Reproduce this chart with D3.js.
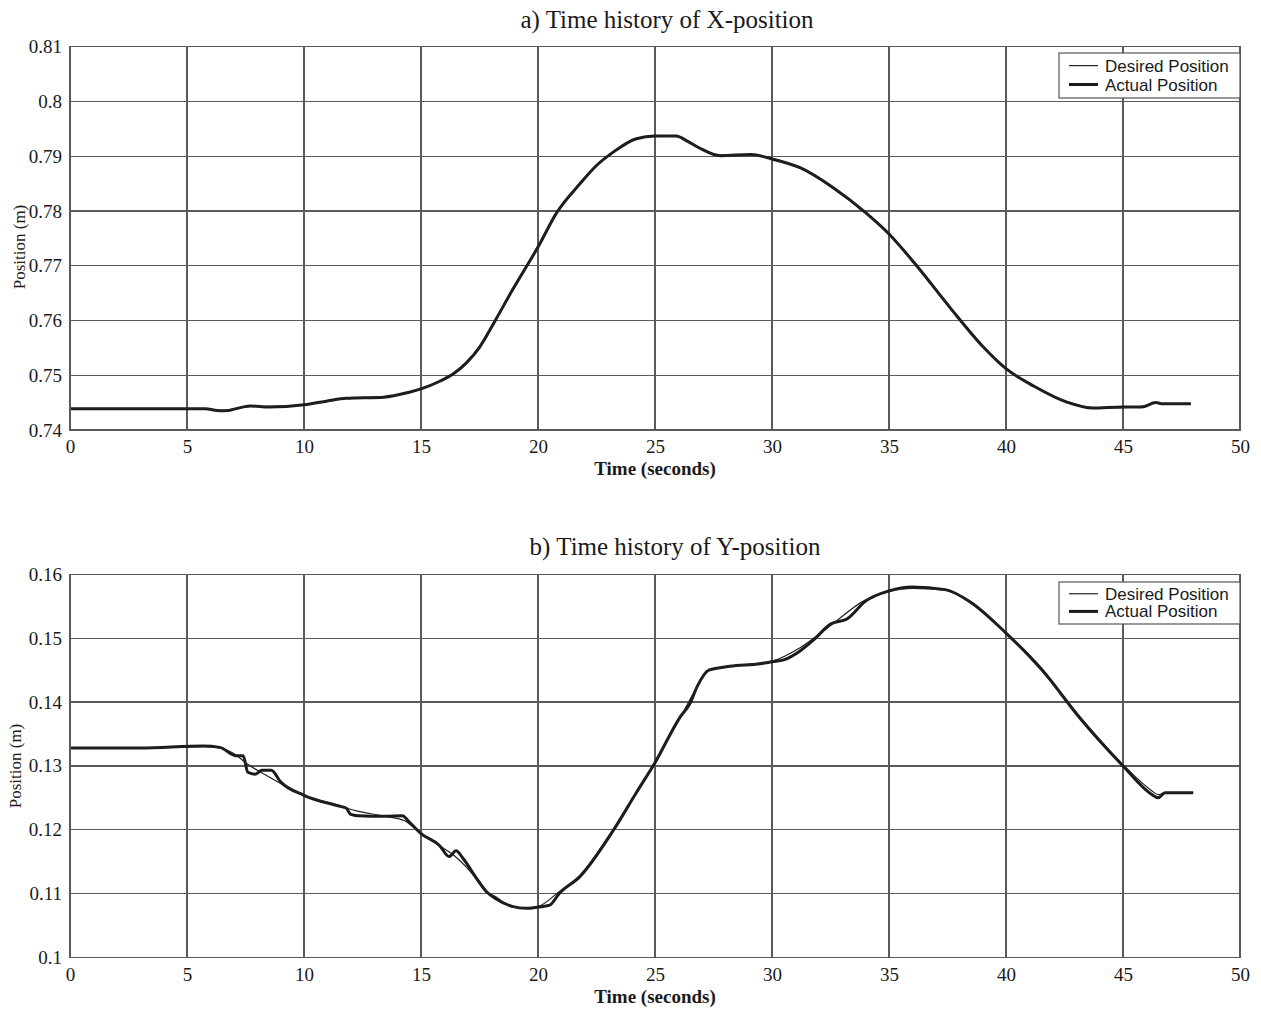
<!DOCTYPE html>
<meta charset="utf-8">
<style>
body { margin: 0; background: #fff; }
.grid line, .frame { stroke: #5a5a5a; stroke-width: 1.3; fill: none; shape-rendering: crispEdges; }
.tick text { font: 19px "Liberation Serif", serif; fill: #1a1a1a; }
.title { font: 25px "Liberation Serif", serif; fill: #1a1a1a; text-anchor: middle; }
.xlabel { font: bold 19px "Liberation Serif", serif; fill: #1a1a1a; text-anchor: middle; }
.ylabel { font: 17px "Liberation Serif", serif; fill: #1a1a1a; text-anchor: middle; }
.legend text { font: 17px "Liberation Sans", Arial, sans-serif; fill: #1a1a1a; }
.desired { stroke: #222; stroke-width: 1.2; fill: none; }
.actual { stroke: #1a1a1a; stroke-width: 3; fill: none; stroke-linejoin: round; }
</style>
<body>
<div id="chart"></div>
<script src="https://d3js.org/d3.v7.min.js"></script>
<script>

// shared time ticks
var timeTicks = [0, 5, 10, 15, 20, 25, 30, 35, 40, 45, 50];

// a) X-position
var xTicks = [0.74, 0.75, 0.76, 0.77, 0.78, 0.79, 0.8, 0.81];
var xTime = [0, 2, 4, 5.8, 6.2, 6.6, 7.7, 8.5, 10, 11, 11.8, 13.4, 14.5, 15, 15.8, 16.4, 16.95, 17.5, 18.2, 18.9,
  19.5, 20, 20.8, 21.8, 22.5, 23.2, 24.2, 25, 25.9, 26.4, 26.9, 27.8, 29.1, 30, 31.2, 32.6, 34, 35, 36.2, 37.6,
  39, 40, 41.2, 42.6, 43.7, 45, 45.8, 46.4, 46.7, 47.9];
var xDesired = [0.7439, 0.7439, 0.7439, 0.7439, 0.7436, 0.7436, 0.7443, 0.7443, 0.7446, 0.7452, 0.7458, 0.7461,
  0.7468, 0.7476, 0.7488, 0.7504, 0.7522, 0.7552, 0.7601, 0.7656, 0.7697, 0.7735, 0.7796, 0.7851, 0.7882, 0.7908,
  0.7931, 0.7937, 0.7936, 0.7928, 0.7914, 0.7902, 0.7902, 0.7896, 0.7878, 0.7844, 0.7796, 0.7759, 0.7698, 0.7625,
  0.7552, 0.7513, 0.7479, 0.7452, 0.7441, 0.7441, 0.7443, 0.7449, 0.7448, 0.7448];
var xActual = [0.7439, 0.7439, 0.7439, 0.7439, 0.7436, 0.7435, 0.7444, 0.7442, 0.7446, 0.7453, 0.7458, 0.7460,
  0.7469, 0.7475, 0.7489, 0.7503, 0.7523, 0.7551, 0.7602, 0.7655, 0.7698, 0.7734, 0.7797, 0.7850, 0.7883, 0.7907,
  0.7932, 0.7937, 0.7937, 0.7927, 0.7915, 0.7901, 0.7903, 0.7895, 0.7879, 0.7843, 0.7797, 0.7758, 0.7699, 0.7624,
  0.7553, 0.7512, 0.7480, 0.7451, 0.7440, 0.7442, 0.7442, 0.7450, 0.7448, 0.7448];

// b) Y-position
var yTicks = [0.1, 0.11, 0.12, 0.13, 0.14, 0.15, 0.16];
var yDesTime = [0, 3, 5.7, 6.4, 7.1, 7.5, 8.4, 10, 11.4, 12.2, 13.5, 14.3, 15, 15.8, 16.4, 17.1, 17.8, 18.2, 18.9,
  19.5, 20, 20.9, 21.8, 23.2, 24.2, 25, 26.1, 26.8, 27.3, 28.2, 30, 31.2, 32.5, 34, 35, 36, 37.4, 38.5, 40, 41.5,
  43.2, 45, 46.2, 46.5, 46.8, 48];
var yDesired = [0.1328, 0.1328, 0.1330, 0.1328, 0.1317, 0.1305, 0.1285, 0.1254, 0.1239, 0.1230, 0.1221, 0.1214,
  0.1194, 0.1175, 0.1160, 0.1135, 0.1103, 0.1095, 0.1079, 0.1078, 0.1080, 0.1103, 0.1129, 0.1200, 0.1257, 0.1306,
  0.1377, 0.1424, 0.1450, 0.1456, 0.1464, 0.1485, 0.1520, 0.1560, 0.1573, 0.1578, 0.1575, 0.1557, 0.1508, 0.1450,
  0.1375, 0.1302, 0.1262, 0.1255, 0.1258, 0.1258];
var yActTime = [0, 3, 5.7, 6.4, 7.1, 7.4, 7.6, 7.9, 8.2, 8.6, 9.0, 10, 11.4, 11.8, 12.0, 12.3, 13.5, 14.2, 14.5, 15,
  15.8, 16.2, 16.5, 16.8, 17.3, 17.8, 18.2, 18.9, 19.5, 20, 20.5, 20.9, 21.8, 23.2, 24.2, 25, 26.1, 26.5, 26.8, 27.3,
  28.2, 29.5, 30, 30.5, 31.2, 31.8, 32.5, 33.2, 34, 35, 36, 37.4, 38.5, 40, 41.5, 43.2, 45, 46.2, 46.5, 46.8, 48];
var yActual = [0.1328, 0.1328, 0.1331, 0.1329, 0.1316, 0.1316, 0.1290, 0.1287, 0.1293, 0.1293, 0.1275, 0.1254,
  0.1238, 0.1234, 0.1224, 0.1222, 0.1221, 0.1222, 0.1212, 0.1194, 0.1175, 0.1158, 0.1167, 0.1155, 0.1128, 0.1103,
  0.1092, 0.1080, 0.1077, 0.1079, 0.1082, 0.1100, 0.1127, 0.1198, 0.1258, 0.1305, 0.1378, 0.1398, 0.1424, 0.1450,
  0.1456, 0.1460, 0.1463, 0.1466, 0.1480, 0.1498, 0.1522, 0.1530, 0.1558, 0.1574, 0.1580, 0.1576, 0.1556, 0.1508,
  0.1452, 0.1373, 0.1300, 0.1256, 0.1250, 0.1258, 0.1258];

var svg = d3.select("#chart").append("svg")
    .attr("width", 1261)
    .attr("height", 1009);

function drawPanel(p) {
  var x = d3.scaleLinear().domain([0, 50]).range([70, 1240]);
  var y = d3.scaleLinear().domain([p.ticks[0], p.ticks[p.ticks.length - 1]]).range([p.bottom, p.top]);
  var g = svg.append("g");

  // grid
  var grid = g.append("g").attr("class", "grid");
  grid.selectAll("line.v").data(timeTicks).enter().append("line")
      .attr("x1", d => x(d)).attr("x2", d => x(d))
      .attr("y1", p.top).attr("y2", p.bottom);
  grid.selectAll("line.h").data(p.ticks).enter().append("line")
      .attr("x1", 70).attr("x2", 1240)
      .attr("y1", d => y(d)).attr("y2", d => y(d));

  // axes (labels only, grid draws the lines)
  g.append("g")
      .attr("transform", "translate(0," + p.bottom + ")")
      .call(d3.axisBottom(x).tickValues(timeTicks).tickSize(0).tickPadding(10).tickFormat(d3.format("d")))
      .call(a => a.select(".domain").remove());
  g.append("g")
      .attr("transform", "translate(70,0)")
      .call(d3.axisLeft(y).tickValues(p.ticks).tickSize(0).tickPadding(8).tickFormat(d => +d.toFixed(2)))
      .call(a => a.select(".domain").remove());

  // curves
  var line = d3.line().curve(d3.curveMonotoneX).x(d => x(d[0])).y(d => y(d[1]));
  g.append("path").attr("class", "actual")
      .attr("d", line(d3.zip(p.actT, p.act)));
  g.append("path").attr("class", "desired")
      .attr("d", line(d3.zip(p.desT, p.des)));

  g.append("rect").attr("class", "frame")
      .attr("x", 70).attr("y", p.top).attr("width", 1170).attr("height", p.bottom - p.top);

  // texts
  g.append("text").attr("class", "title").attr("x", p.titleX).attr("y", p.top - 19).text(p.title);
  g.append("text").attr("class", "xlabel").attr("x", 655).attr("y", p.bottom + 45).text("Time (seconds)");
  g.append("text").attr("class", "ylabel")
      .attr("transform", "translate(" + p.ylabX + "," + p.ylabY + ") rotate(-90)")
      .text("Position (m)");

  // legend
  var lg = g.append("g").attr("class", "legend").attr("transform", "translate(1059," + p.legY + ")");
  lg.append("rect").attr("width", 181).attr("height", p.legH)
      .attr("fill", "#fff").attr("stroke", "#555").attr("stroke-width", 1.2);
  var items = [["Desired Position", "desired", p.legH * 0.28], ["Actual Position", "actual", p.legH * 0.7]];
  items.forEach(function(it) {
    lg.append("line").attr("class", it[1]).attr("x1", 10).attr("x2", 39).attr("y1", it[2]).attr("y2", it[2]);
    lg.append("text").attr("x", 46).attr("y", it[2] + 6).text(it[0]);
  });
}

drawPanel({
  top: 46.7, bottom: 430, ticks: xTicks,
  desT: xTime, des: xDesired, actT: xTime, act: xActual,
  title: "a) Time history of X-position", titleX: 667, ylabX: 25, ylabY: 247, legY: 53, legH: 45
});
drawPanel({
  top: 574.3, bottom: 957.5, ticks: yTicks,
  desT: yDesTime, des: yDesired, actT: yActTime, act: yActual,
  title: "b) Time history of Y-position", titleX: 675, ylabX: 21, ylabY: 766, legY: 582, legH: 42
});

</script>
</body>
